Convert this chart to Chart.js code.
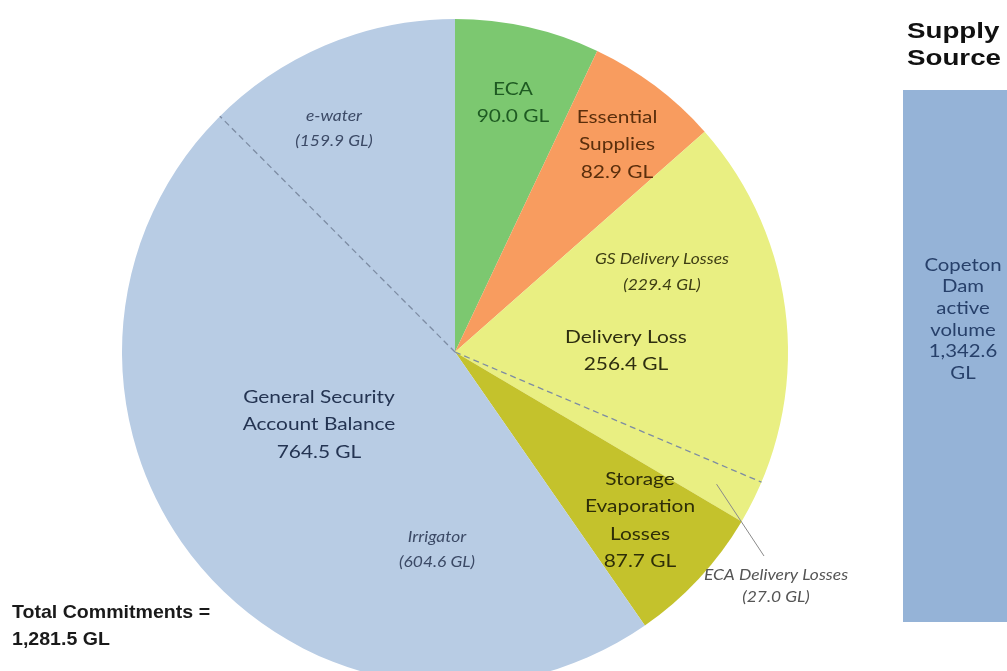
<!DOCTYPE html>
<html>
<head>
<meta charset="utf-8">
<script src="https://cdn.jsdelivr.net/npm/chart.js@4"></script>
<style>
  body { margin: 0; background: #fff; overflow: hidden; width: 1007px; height: 671px; position: relative; }
  #pie { position: absolute; left: 0; top: 0; }
  #bar { position: absolute; left: 903px; top: 90px; }
</style>
</head>
<body>
<canvas id="pie" width="1007" height="700"></canvas>
<canvas id="bar" width="120" height="532"></canvas>
<script>
// commitments (GL), clockwise from 12 o'clock
const sliceNames = ["ECA", "Essential Supplies", "Delivery Loss", "Storage Evaporation Losses", "General Security Account Balance"];
const sliceValues = [90.0, 82.9, 256.4, 87.7, 764.5];
const sliceColors = ["#7cc870", "#f89c5f", "#e9ef82", "#c4c22c", "#b8cce4"];

// sub splits drawn as dashed lines inside a slice
const deliverySplit = [229.4, 27.0];   // GS delivery losses, ECA delivery losses
const gsSplit = [604.6, 159.9];        // irrigator, e-water

// supply side
const supplyNames = ["Copeton Dam active volume"];
const supplyValues = [1342.6];

const totalText = ["Total Commitments =", "1,281.5 GL"];

const F = "Lato, 'Noto Sans', sans-serif";
const A = "'Liberation Sans', Arial, sans-serif";

const labels = [
  { lines: ["ECA", "90.0 GL"], x: 513, y: 89, color: "#1e5a22" },
  { lines: ["Essential", "Supplies", "82.9 GL"], x: 617, y: 117, color: "#5a2e0c" },
  { lines: ["e-water", "(159.9 GL)"], x: 334, y: 116, color: "#3c4a66", font: "italic 15px " + F, lh: 25 },
  { lines: ["GS Delivery Losses", "(229.4 GL)"], x: 662, y: 259, color: "#3e3e14", font: "italic 15px " + F, lh: 26 },
  { lines: ["Delivery Loss", "256.4 GL"], x: 626, y: 337, color: "#2e2e10" },
  { lines: ["General Security", "Account Balance", "764.5 GL"], x: 319, y: 397, color: "#243452" },
  { lines: ["Irrigator", "(604.6 GL)"], x: 437, y: 537, color: "#3c4a66", font: "italic 15px " + F, lh: 25 },
  { lines: ["Storage", "Evaporation", "Losses", "87.7 GL"], x: 640, y: 479, color: "#2e2e08" },
  { lines: ["ECA Delivery Losses", "(27.0 GL)"], x: 776, y: 575, color: "#555555", font: "italic 15px " + F, lh: 22 }
];

// canvas text, stretched a little sideways like the original export
function text(ctx, t, x, y, sx) {
  ctx.save();
  ctx.translate(x, y);
  ctx.scale(sx, 1);
  ctx.fillText(t, 0, 0);
  ctx.restore();
}

function drawLines(ctx, l) {
  ctx.font = l.font || "18px " + F;
  ctx.fillStyle = l.color;
  ctx.textAlign = "center";
  ctx.textBaseline = "middle";
  const lh = l.lh || 27.5;
  l.lines.forEach((t, i) => text(ctx, t, l.x, l.y + i * lh, 1.16));
}

const pieExtras = {
  id: "pieExtras",
  afterDatasetsDraw(chart) {
    const ctx = chart.ctx;
    const arcs = chart.getDatasetMeta(0).data;
    const cx = arcs[0].x, cy = arcs[0].y, r = arcs[0].outerRadius;

    function splitAngle(idx, firstPart) {
      const a = arcs[idx];
      return a.startAngle + (firstPart / sliceValues[idx]) * (a.endAngle - a.startAngle);
    }

    // dashed dividers
    ctx.save();
    ctx.strokeStyle = "#7d8ca3";
    ctx.lineWidth = 1.3;
    ctx.setLineDash([6, 4]);
    [splitAngle(2, deliverySplit[0]), splitAngle(4, gsSplit[0])].forEach(ang => {
      ctx.beginPath();
      ctx.moveTo(cx, cy);
      ctx.lineTo(cx + r * Math.cos(ang), cy + r * Math.sin(ang));
      ctx.stroke();
    });
    ctx.restore();

    // leader line for ECA delivery losses
    const a2 = arcs[2];
    const mid = (splitAngle(2, deliverySplit[0]) + a2.endAngle) / 2;
    ctx.save();
    ctx.strokeStyle = "#8a8a8a";
    ctx.lineWidth = 1;
    ctx.beginPath();
    ctx.moveTo(cx + r * 0.88 * Math.cos(mid), cy + r * 0.88 * Math.sin(mid));
    ctx.lineTo(764, 556);
    ctx.stroke();
    ctx.restore();

    ctx.save();
    labels.forEach(l => drawLines(ctx, l));

    // total
    ctx.font = "bold 19px " + A;
    ctx.fillStyle = "#1a1a1a";
    ctx.textAlign = "left";
    ctx.textBaseline = "middle";
    text(ctx, totalText[0], 12, 613, 1.03);
    text(ctx, totalText[1], 12, 640, 1.03);

    // supply source heading
    ctx.font = "bold 22px " + A;
    ctx.fillStyle = "#111";
    text(ctx, "Supply", 907, 32, 1.26);
    text(ctx, "Source", 907, 59, 1.26);
    ctx.restore();
  }
};

new Chart(document.getElementById("pie"), {
  type: "pie",
  data: {
    labels: sliceNames,
    datasets: [{
      data: sliceValues,
      backgroundColor: sliceColors,
      borderWidth: 0
    }]
  },
  options: {
    responsive: false,
    animation: false,
    devicePixelRatio: 1,
    layout: { padding: { left: 122, right: 219, top: 19, bottom: 15 } },
    plugins: { legend: { display: false }, tooltip: { enabled: false } }
  },
  plugins: [pieExtras]
});

const barText = {
  id: "barText",
  afterDatasetsDraw(chart) {
    const ctx = chart.ctx;
    const bar = chart.getDatasetMeta(0).data[0];
    const lines = ["Copeton", "Dam", "active", "volume", "1,342.6", "GL"];
    ctx.save();
    ctx.font = "18px " + F;
    ctx.fillStyle = "#27406a";
    ctx.textAlign = "center";
    ctx.textBaseline = "middle";
    lines.forEach((t, i) => text(ctx, t, bar.x, 175 + i * 21.6, 1.13));
    ctx.restore();
  }
};

new Chart(document.getElementById("bar"), {
  type: "bar",
  data: {
    labels: supplyNames,
    datasets: [{
      data: supplyValues,
      backgroundColor: "#95b3d7",
      borderWidth: 0,
      barPercentage: 1,
      categoryPercentage: 1
    }]
  },
  options: {
    responsive: false,
    animation: false,
    devicePixelRatio: 1,
    layout: { padding: 0 },
    scales: {
      x: { display: false },
      y: { display: false, min: 0, max: supplyValues[0] }
    },
    plugins: { legend: { display: false }, tooltip: { enabled: false } }
  },
  plugins: [barText]
});
</script>
</body>
</html>
